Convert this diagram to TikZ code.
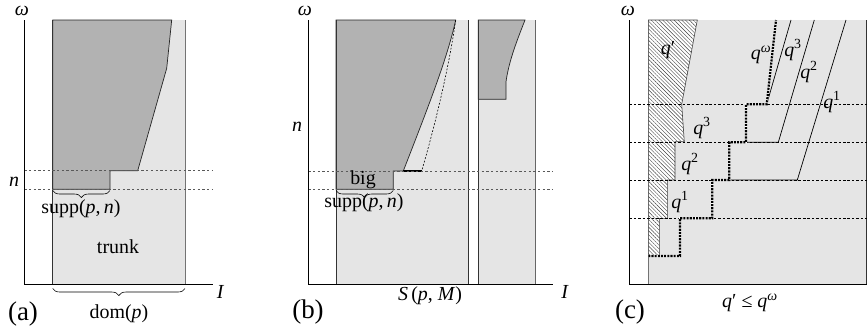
\documentclass[tikz,border=0pt]{standalone}
\usepackage{fontspec}
\setmainfont{Liberation Serif}
\usetikzlibrary{patterns.meta,decorations.pathreplacing}

\tikzset{
  light/.style={fill=black!10},
  dark/.style={fill=black!30, draw=black!85, line width=0.6pt},
  edge/.style={draw=black!80, line width=0.6pt},
  level/.style={draw=black!65, dash pattern=on 2pt off 2pt, line width=0.5pt},
  levelc/.style={draw=black, dash pattern=on 2.2pt off 1.6pt, line width=0.45pt},
  axis/.style={draw=black, line width=0.6pt},
  lbl/.style={font=\fontsize{17}{20}\selectfont, inner sep=0pt},
  panelcap/.style={font=\fontsize{23}{26}\selectfont, inner sep=0pt},
  brace/.style={decorate, decoration={brace, mirror, amplitude=6pt}, line width=0.5pt},
  qline/.style={draw=black, line width=0.6pt},
  qomega/.style={draw=black, line width=1.9pt, dash pattern=on 1.8pt off 0.9pt,
    preaction={draw=white, line width=1.9pt, solid}}
}

\begin{document}
\begin{tikzpicture}[
  x=0.03cm,
  y=-0.03cm,
  line cap=butt,
  line join=miter
]
  \useasboundingbox (0,0) rectangle (867,333);

  % ---------------- (a) ----------------
  \coordinate (aO) at (24.3,284);
  \coordinate (aTop) at (24.3,20);
  \coordinate (aEnd) at (213,284);

  % Bereich dom(p)
  \fill[light] (52.7,20) rectangle (185,284);

  % Bedingung p
  \draw[dark]
    (52.7,20) -- (171.7,20) -- (166.7,68.3) -- (137.7,170.7)
    -- (110,170.7) -- (110,189.3) -- (52.7,189.3) -- cycle;

  \draw[edge] (52.7,20) -- (52.7,284);
  \draw[edge, draw=black!55] (185,20) -- (185,284);

  % Niveaus
  \draw[level] (24.3,170.7) -- (213,170.7);
  \draw[level] (24.3,189.3) -- (213,189.3);

  % Achsen
  \draw[axis] (aTop) -- (aO) -- (aEnd);
  \node[lbl] (aomega) at (22,10.5) {\textit{ω}};
  \node[lbl] (aI) at (220.5,292) {\textit{I}};
  \node[lbl] (an) at (14,182) {\textit{n}};

  % Klammern
  \coordinate (asuppL) at (52.7,190.5);
  \coordinate (asuppR) at (110,190.5);
  \draw[brace] (asuppL) -- (asuppR);
  \node[lbl] (asupp) at (81,209) {supp(\textit{p},\,\textit{n})};
  \node[lbl] (atrunk) at (118,247) {trunk};

  \coordinate (adomL) at (52.7,288.5);
  \coordinate (adomR) at (185,288.5);
  \draw[brace] (adomL) -- (adomR);
  \node[lbl] (adom) at (119,314) {dom(\textit{p})};
  \node[panelcap] (acap) at (23,314) {(a)};

  % ---------------- (b) ----------------
  \coordinate (bO) at (308.3,284);
  \coordinate (bTop) at (308.3,20);
  \coordinate (bEnd) at (553.3,284);

  \fill[light] (336,20) rectangle (468.3,284);
  \fill[light] (478.3,20) rectangle (535,284);

  % p und die Verlaengerung
  \draw[dark]
    (336,20) -- (455.7,20)
    .. controls (447,60) and (425,115) .. (403.3,171)
    -- (393.3,171) -- (393.3,189.3) -- (336,189.3) -- cycle;
  \draw[dark]
    (478.3,20) -- (525,20)
    .. controls (518,38) and (509,60) .. (506,81.7)
    -- (506,99.3) -- (478.3,99.3) -- cycle;

  \draw[draw=black, line width=0.5pt, dash pattern=on 1.6pt off 1.4pt]
    (455.7,20) .. controls (450,60) and (438,115) .. (421.7,171);
  \draw[draw=black, line width=1.4pt] (403.3,171) -- (421.7,171);

  \draw[edge] (336,20) -- (336,284);
  \draw[edge] (468.3,20) -- (468.3,284);
  \draw[edge] (478.3,20) -- (478.3,284);
  \draw[edge, draw=black!60] (535,20) -- (535,284);

  \draw[level] (308.3,171) -- (553.3,171);
  \draw[level] (308.3,189.3) -- (553.3,189.3);

  \draw[axis] (bTop) -- (bO) -- (bEnd);
  \node[lbl] (bomega) at (305,10.5) {\textit{ω}};
  \node[lbl] (bI) at (565,292) {\textit{I}};
  \node[lbl] (bn) at (297,127) {\textit{n}};
  \node[lbl] (bbig) at (363,180) {big};

  \coordinate (bsuppL) at (336,190.5);
  \coordinate (bsuppR) at (393.3,190.5);
  \draw[brace] (bsuppL) -- (bsuppR);
  \node[lbl] (bsupp) at (364,203) {supp(\textit{p},\,\textit{n})};
  \node[lbl] (bS) at (430,296) {\textit{S}\,(\textit{p}, \textit{M})};
  \node[panelcap] (bcap) at (308,312) {(b)};

  % ---------------- (c) ----------------
  \coordinate (cO) at (629.3,284);
  \coordinate (cTop) at (629.3,20);
  \coordinate (cEnd) at (867,284);

  \fill[light] (648.3,20) rectangle (867,284);
  \draw[edge, draw=black!55] (648.3,20) -- (648.3,284);
  \draw[edge] (866.3,20) -- (866.3,284);

  % q'
  \filldraw[fill=white, draw=black!75, line width=0.5pt,
    postaction={pattern={Lines[angle=-45, distance=2.3pt, line width=0.35pt]},
      pattern color=black!75}]
    (648.3,20) -- (697.3,20) -- (681.7,104.3) -- (684.3,141.7)
    -- (675,141.7) -- (675,180) -- (667.3,180) -- (667.3,218.3)
    -- (659.3,218.3) -- (659.3,256) -- (648.3,256) -- cycle;

  \foreach \y in {104.3,142.3,180,218.3}
    \draw[levelc] (629.3,\y) -- (867,\y);

  % q^1, q^2, q^3
  \draw[qline] (729.3,180) -- (797.3,180) -- (846,20);
  \draw[qline] (746,142.3) -- (778.3,142.3) -- (814.3,20);
  \draw[qline] (766.7,104.3) -- (791,20);

  % q^omega
  \draw[qomega]
    (648.3,256) -- (680,256) -- (680,218.3) -- (712.3,218.3)
    -- (712.3,180) -- (729.3,180) -- (729.3,142.3) -- (746,142.3)
    -- (746,104.3) -- (766.7,104.3) -- (776,20);

  \draw[axis] (cTop) -- (cO) -- (cEnd);
  \node[lbl] (comega) at (628,10.5) {\textit{ω}};

  \node[lbl] (cqp) at (668,50) {\textit{q}′};
  \node[lbl] (cqw) at (761,55) {\textit{q}\textsuperscript{\textit{ω}}};
  \node[lbl] (cq3a) at (793,50) {\textit{q}\textsuperscript{3}};
  \node[lbl] (cq2a) at (809,72) {\textit{q}\textsuperscript{2}};
  \node[lbl] (cq1a) at (832,102) {\textit{q}\textsuperscript{1}};
  \node[lbl] (cq3b) at (702,128) {\textit{q}\textsuperscript{3}};
  \node[lbl] (cq2b) at (690,164) {\textit{q}\textsuperscript{2}};
  \node[lbl] (cq1b) at (680,202) {\textit{q}\textsuperscript{1}};

  \node[lbl] (cle) at (750,303) {\textit{q}′ ≤ \textit{q}\textsuperscript{\textit{ω}}};
  \node[panelcap] (ccap) at (630,312) {(c)};
\end{tikzpicture}
\end{document}
